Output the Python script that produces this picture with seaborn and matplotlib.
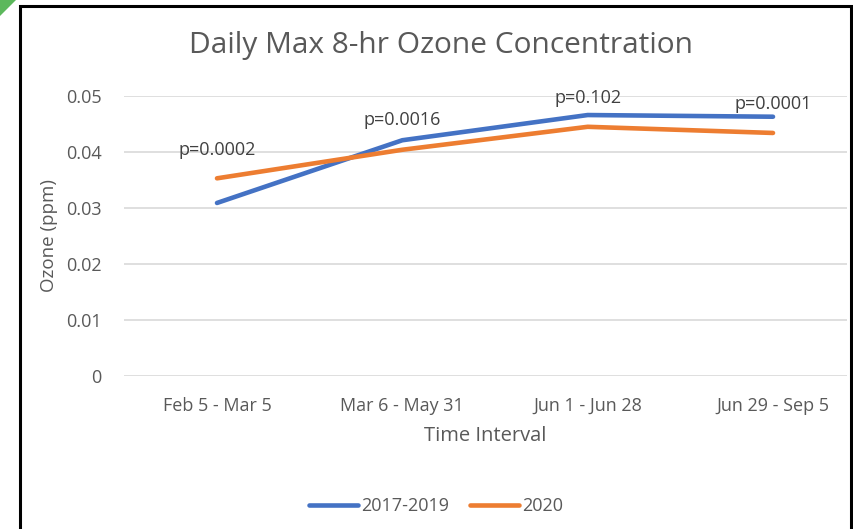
import numpy as np
import pandas as pd
import matplotlib
matplotlib.use('Agg')
import matplotlib.pyplot as plt
import seaborn as sns
from matplotlib.patches import Rectangle, Polygon

# data
intervals = ['Feb 5 - Mar 5', 'Mar 6 - May 31', 'Jun 1 - Jun 28', 'Jun 29 - Sep 5']
ozone_2017_2019 = [0.0309, 0.0421, 0.0466, 0.0463]
ozone_2020 = [0.0353, 0.0404, 0.0445, 0.0434]
p_values = ['p=0.0002', 'p=0.0016', 'p=0.102', 'p=0.0001']
series_names = ['2017-2019', '2020']
yticks = [0, 0.01, 0.02, 0.03, 0.04, 0.05]

pos = np.arange(len(intervals))
df = pd.DataFrame({
    'pos': np.concatenate([pos, pos]),
    'ozone': ozone_2017_2019 + ozone_2020,
    'series': [series_names[0]] * len(pos) + [series_names[1]] * len(pos),
})

sns.set_theme(style='white')
plt.rcParams['font.family'] = ['Open Sans', 'DejaVu Sans']
grey = '#595959'

W, H = 854, 529
fig = plt.figure(figsize=(W / 100, H / 100), dpi=100)
fig.patch.set_facecolor('white')

# axes placement in pixels
left, right, top, bottom = 124, 847, 96, 376
ax = fig.add_axes([left / W, 1 - bottom / H, (right - left) / W, (bottom - top) / H])

sns.lineplot(data=df, x='pos', y='ozone', hue='series',
             palette=['#4472C4', '#ED7D31'], linewidth=3.3,
             ax=ax, legend=False, solid_capstyle='round')

# x scale: categories at 217, 400, 586, 773 px
step = (773 - 217) / 3
ax.set_xlim(-(217 - left) / step, (right - 217) / step)
ax.set_ylim(0, 0.05)
ax.set_xticks(pos)
ax.set_xticklabels(intervals)
ax.set_yticks(yticks)
ax.set_yticklabels(['0' if t == 0 else f'{t:.2f}' for t in yticks])
ax.tick_params(axis='both', length=0, labelsize=13, colors=grey)
ax.tick_params(axis='y', pad=16)
ax.tick_params(axis='x', pad=15)
ax.yaxis.grid(True, color='#D9D9D9', linewidth=1.2)
ax.set_axisbelow(True)
for s in ax.spines.values():
    s.set_visible(False)

ax.set_xlabel('Time Interval', fontsize=14.5, color=grey, labelpad=8)
ax.set_ylabel('Ozone (ppm)', fontsize=13.5, color=grey, labelpad=6)

# p-value labels above the higher line (offsets in points)
label_offsets = [14, 8, 6, 3]
for i, lab in enumerate(p_values):
    top_val = max(ozone_2017_2019[i], ozone_2020[i])
    ax.annotate(lab, (pos[i], top_val), xytext=(0, label_offsets[i]),
                textcoords='offset points', ha='center', va='bottom',
                fontsize=13, color='#404040', annotation_clip=False)

fig.text(441 / W, 1 - 46 / H, 'Daily Max 8-hr Ozone Concentration',
         ha='center', va='center', fontsize=21.5, color=grey)

handles = [plt.Line2D([], [], color=c, lw=3.3, solid_capstyle='round')
           for c in ['#4472C4', '#ED7D31']]
fig.legend(handles, series_names, loc='center', bbox_to_anchor=(436 / W, 1 - 506 / H),
           ncol=2, frameon=False, fontsize=13, handlelength=2.7, handletextpad=0.15,
           columnspacing=1.2, labelcolor=grey)

# outer frame and green corner
fig.patches.append(Rectangle((20 / W, -0.05), (851 - 20) / W, 1.05 - 6 / H,
                             transform=fig.transFigure, fill=False,
                             edgecolor='black', linewidth=2.2))
fig.patches.append(Polygon([(0, 1), (16 / W, 1), (0, 1 - 16 / H)], closed=True,
                           transform=fig.transFigure, facecolor='#5CB85C',
                           edgecolor='none'))

fig.savefig('out.png', dpi=100)
